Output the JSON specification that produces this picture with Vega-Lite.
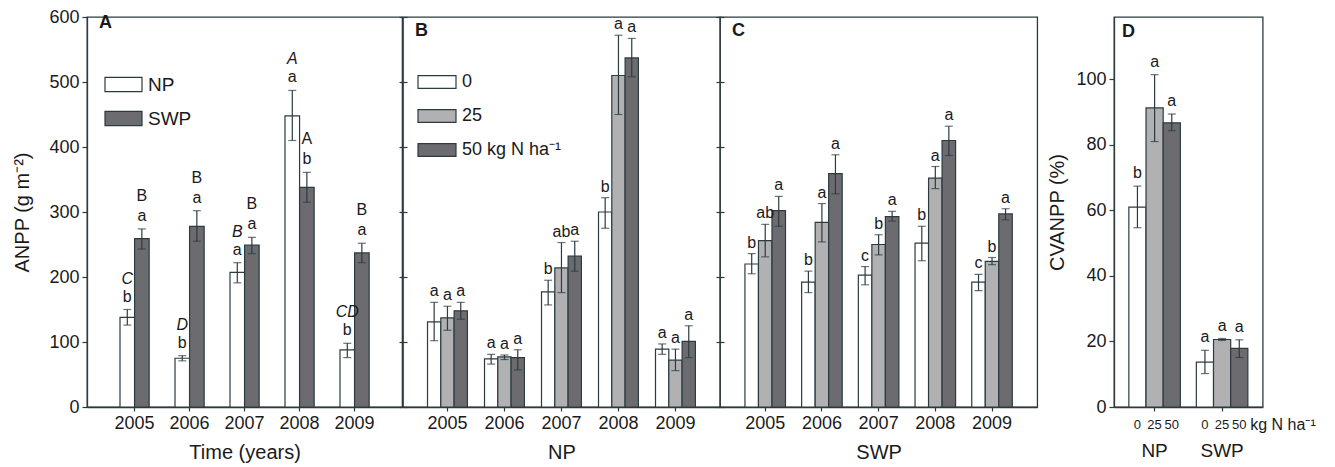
{
  "$schema": "https://vega.github.io/schema/vega-lite/v6.json",
  "background": "white",
  "padding": {"left": 12, "top": 7, "right": 0, "bottom": 0},
  "datasets": {
    "abc": [
      {"p":"A","year":"2005","trt":"NP","mean":138,"lo":126,"hi":150,"let":"b","cap":"C"},
      {"p":"A","year":"2005","trt":"SWP","mean":259,"lo":243,"hi":274,"let":"a","cap":"B"},
      {"p":"A","year":"2006","trt":"NP","mean":75,"lo":71,"hi":79,"let":"b","cap":"D"},
      {"p":"A","year":"2006","trt":"SWP","mean":278,"lo":255,"hi":302,"let":"a","cap":"B"},
      {"p":"A","year":"2007","trt":"NP","mean":207,"lo":191,"hi":222,"let":"a","cap":"B"},
      {"p":"A","year":"2007","trt":"SWP","mean":249,"lo":236,"hi":261,"let":"a","cap":"B"},
      {"p":"A","year":"2008","trt":"NP","mean":448,"lo":410,"hi":487,"let":"a","cap":"A"},
      {"p":"A","year":"2008","trt":"SWP","mean":338,"lo":315,"hi":361,"let":"b","cap":"A"},
      {"p":"A","year":"2009","trt":"NP","mean":88,"lo":76,"hi":98,"let":"b","cap":"CD"},
      {"p":"A","year":"2009","trt":"SWP","mean":237,"lo":222,"hi":252,"let":"a","cap":"B"},
      {"p":"B","year":"2005","trt":"0","mean":131,"lo":102,"hi":161,"let":"a"},
      {"p":"B","year":"2005","trt":"25","mean":137,"lo":118,"hi":155,"let":"a"},
      {"p":"B","year":"2005","trt":"50","mean":148,"lo":135,"hi":161,"let":"a"},
      {"p":"B","year":"2006","trt":"0","mean":74,"lo":66,"hi":81,"let":"a"},
      {"p":"B","year":"2006","trt":"25","mean":77,"lo":73,"hi":80,"let":"a"},
      {"p":"B","year":"2006","trt":"50","mean":76,"lo":57,"hi":88,"let":"a"},
      {"p":"B","year":"2007","trt":"0","mean":177,"lo":157,"hi":195,"let":"b"},
      {"p":"B","year":"2007","trt":"25","mean":214,"lo":176,"hi":253,"let":"ab"},
      {"p":"B","year":"2007","trt":"50","mean":232,"lo":209,"hi":255,"let":"a"},
      {"p":"B","year":"2008","trt":"0","mean":300,"lo":275,"hi":322,"let":"b"},
      {"p":"B","year":"2008","trt":"25","mean":510,"lo":450,"hi":572,"let":"a"},
      {"p":"B","year":"2008","trt":"50","mean":537,"lo":508,"hi":567,"let":"a"},
      {"p":"B","year":"2009","trt":"0","mean":89,"lo":81,"hi":97,"let":"a"},
      {"p":"B","year":"2009","trt":"25","mean":72,"lo":56,"hi":89,"let":"a"},
      {"p":"B","year":"2009","trt":"50","mean":101,"lo":76,"hi":125,"let":"a"},
      {"p":"C","year":"2005","trt":"0","mean":220,"lo":205,"hi":236,"let":"b"},
      {"p":"C","year":"2005","trt":"25","mean":256,"lo":231,"hi":281,"let":"ab"},
      {"p":"C","year":"2005","trt":"50","mean":302,"lo":278,"hi":324,"let":"a"},
      {"p":"C","year":"2006","trt":"0","mean":192,"lo":176,"hi":209,"let":"b"},
      {"p":"C","year":"2006","trt":"25","mean":284,"lo":254,"hi":313,"let":"a"},
      {"p":"C","year":"2006","trt":"50","mean":359,"lo":328,"hi":388,"let":"a"},
      {"p":"C","year":"2007","trt":"0","mean":203,"lo":188,"hi":216,"let":"c"},
      {"p":"C","year":"2007","trt":"25","mean":250,"lo":234,"hi":265,"let":"b"},
      {"p":"C","year":"2007","trt":"50","mean":293,"lo":286,"hi":301,"let":"a"},
      {"p":"C","year":"2008","trt":"0","mean":252,"lo":225,"hi":278,"let":"b"},
      {"p":"C","year":"2008","trt":"25","mean":352,"lo":336,"hi":370,"let":"a"},
      {"p":"C","year":"2008","trt":"50","mean":410,"lo":387,"hi":432,"let":"a"},
      {"p":"C","year":"2009","trt":"0","mean":192,"lo":179,"hi":204,"let":"c"},
      {"p":"C","year":"2009","trt":"25","mean":224,"lo":219,"hi":230,"let":"b"},
      {"p":"C","year":"2009","trt":"50","mean":297,"lo":288,"hi":305,"let":"a"}
    ],
    "cv": [
      {"grp":"NP","lvl":"0","mean":61,"lo":54.7,"hi":67.4,"let":"b"},
      {"grp":"NP","lvl":"25","mean":91.3,"lo":81,"hi":101.4,"let":"a"},
      {"grp":"NP","lvl":"50","mean":86.7,"lo":84.3,"hi":89.4,"let":"a"},
      {"grp":"SWP","lvl":"0","mean":13.7,"lo":10.2,"hi":17.3,"let":"a"},
      {"grp":"SWP","lvl":"25","mean":20.6,"lo":20.3,"hi":20.9,"let":"a"},
      {"grp":"SWP","lvl":"50","mean":17.9,"lo":15.1,"hi":20.5,"let":"a"}
    ]
  },
  "config": {
    "font": "Liberation Sans",
    "view": {"stroke": "#2b3b3e", "strokeWidth": 1.3},
    "axis": {"domainColor": "#2b3b3e", "tickColor": "#2b3b3e", "labelColor": "#1a1a1a", "titleColor": "#1a1a1a", "labelFont": "Liberation Sans", "titleFont": "Liberation Sans", "labelFontSize": 18, "titleFontSize": 20, "titleFontWeight": "normal", "grid": false, "domainWidth": 1.3, "tickWidth": 1.2, "labelOverlap": false},
    "legend": {"labelFont": "Liberation Sans", "labelColor": "#1a1a1a", "padding": 0},
    "text": {"font": "Liberation Sans", "fontSize": 16, "color": "#1a1a1a"},
    "title": {"font": "Liberation Sans", "fontSize": 18, "fontWeight": "bold", "color": "#1a1a1a", "anchor": "start", "frame": "group", "offset": -24, "dx": 12}
  },
  "resolve": {"scale": {"x": "independent", "xOffset": "independent", "y": "independent", "fill": "independent"}, "legend": {"fill": "independent"}},
  "spacing": 9,
  "hconcat": [
    {
      "hconcat": [
        {
          "width": {"step": 55, "for": "position"}, "height": 390,
          "title": {"text": "A"},
          "data": {"name": "abc"},
          "transform": [{"filter": "datum.p === 'A'"}],
          "encoding": {
            "x": {"field": "year", "type": "nominal", "scale": {"paddingInner": 0.47, "paddingOuter": 0.6}, "axis": {"title": "Time (years)", "labelAngle": 0, "tickSize": 4, "labelPadding": 3, "titlePadding": 10}},
            "xOffset": {"field": "trt", "type": "nominal", "scale": {"domain": ["NP", "SWP"], "paddingInner": 0, "paddingOuter": 0}}
          },
          "layer": [
            {"mark": {"type": "bar", "stroke": "#2b3b3e", "strokeWidth": 1.2},
             "encoding": {
               "y": {"field": "mean", "type": "quantitative", "scale": {"domain": [0, 600], "nice": false},
                     "axis": {"title": "ANPP (g m⁻²)", "labelOverlap": false, "labelBound": false, "values": [0,25,50,75,100,125,150,175,200,225,250,275,300,325,350,375,400,425,450,475,500,525,550,575,600], "labelExpr": "datum.value % 50 === 0 ? datum.label : ''", "tickSize": {"condition": {"test": "datum.value % 50 === 0", "value": 5}, "value": -3}, "labelPadding": 3, "titlePadding": 16}},
               "fill": {"field": "trt", "type": "nominal", "scale": {"domain": ["NP", "SWP"], "range": ["#ffffff", "#6c6c70"]},
                        "legend": {"orient": "none", "legendX": 17, "legendY": 48, "title": null, "symbolType": "M-1,-0.38H1V0.38H-1Z", "symbolSize": 1369, "symbolStrokeColor": "#2b3b3e", "symbolStrokeWidth": 1.2, "symbolOpacity": 1, "labelFontSize": 19, "labelOffset": 5, "rowPadding": 4}}
             }},
            {"mark": {"type": "rule", "color": "#2b3b3e", "strokeWidth": 1.2}, "encoding": {"y": {"field": "lo", "type": "quantitative"}, "y2": {"field": "hi"}}},
            {"mark": {"type": "tick", "color": "#2b3b3e", "size": 8, "thickness": 1.2}, "encoding": {"y": {"field": "lo", "type": "quantitative"}}},
            {"mark": {"type": "tick", "color": "#2b3b3e", "size": 8, "thickness": 1.2}, "encoding": {"y": {"field": "hi", "type": "quantitative"}}},
            {"mark": {"type": "text", "baseline": "alphabetic", "dy": -8}, "encoding": {"y": {"field": "hi", "type": "quantitative"}, "text": {"field": "let"}}},
            {"transform": [{"filter": "datum.trt === 'NP'"}], "mark": {"type": "text", "baseline": "alphabetic", "dy": -26, "fontStyle": "italic"}, "encoding": {"y": {"field": "hi", "type": "quantitative"}, "text": {"field": "cap"}}},
            {"transform": [{"filter": "datum.trt === 'SWP'"}], "mark": {"type": "text", "baseline": "alphabetic", "dy": -28}, "encoding": {"y": {"field": "hi", "type": "quantitative"}, "text": {"field": "cap"}}}
          ]
        },
        {
          "width": {"step": 57, "for": "position"}, "height": 390,
          "title": {"text": "B"},
          "data": {"name": "abc"},
          "transform": [{"filter": "datum.p === 'B'"}],
          "encoding": {
            "x": {"field": "year", "type": "nominal", "scale": {"paddingInner": 0.3, "paddingOuter": 0.43}, "axis": {"title": "NP", "labelAngle": 0, "tickSize": 4, "labelPadding": 3, "titlePadding": 10}},
            "xOffset": {"field": "trt", "type": "nominal", "scale": {"domain": ["0", "25", "50"], "paddingInner": 0, "paddingOuter": 0}}
          },
          "layer": [
            {"mark": {"type": "bar", "stroke": "#2b3b3e", "strokeWidth": 1.2},
             "encoding": {
               "y": {"field": "mean", "type": "quantitative", "scale": {"domain": [0, 600], "nice": false},
                     "axis": {"title": null, "labels": false, "domain": false, "tickSize": 8, "offset": -4, "values": [0,25,50,75,100,125,150,175,200,225,250,275,300,325,350,375,400,425,450,475,500,525,550,575,600]}},
               "fill": {"field": "trt", "type": "nominal", "scale": {"domain": ["0", "25", "50"], "range": ["#ffffff", "#b1b1b4", "#6c6c70"]},
                        "legend": {"orient": "none", "legendX": 14, "legendY": 45, "title": null, "symbolType": "M-1,-0.34H1V0.34H-1Z", "symbolSize": 1444, "symbolStrokeColor": "#2b3b3e", "symbolStrokeWidth": 1.2, "symbolOpacity": 1, "labelFontSize": 18, "labelOffset": 5, "rowPadding": 5, "labelExpr": "datum.label === '50' ? '50 kg N ha⁻¹' : datum.label"}}
             }},
            {"mark": {"type": "rule", "color": "#2b3b3e", "strokeWidth": 1.2}, "encoding": {"y": {"field": "lo", "type": "quantitative"}, "y2": {"field": "hi"}}},
            {"mark": {"type": "tick", "color": "#2b3b3e", "size": 8, "thickness": 1.2}, "encoding": {"y": {"field": "lo", "type": "quantitative"}}},
            {"mark": {"type": "tick", "color": "#2b3b3e", "size": 8, "thickness": 1.2}, "encoding": {"y": {"field": "hi", "type": "quantitative"}}},
            {"mark": {"type": "text", "baseline": "alphabetic", "dy": -6}, "encoding": {"y": {"field": "hi", "type": "quantitative"}, "text": {"field": "let"}}}
          ]
        },
        {
          "width": {"step": 56.7, "for": "position"}, "height": 390,
          "title": {"text": "C"},
          "data": {"name": "abc"},
          "transform": [{"filter": "datum.p === 'C'"}],
          "encoding": {
            "x": {"field": "year", "type": "nominal", "scale": {"paddingInner": 0.285, "paddingOuter": 0.44}, "axis": {"title": "SWP", "labelAngle": 0, "tickSize": 4, "labelPadding": 3, "titlePadding": 10}},
            "xOffset": {"field": "trt", "type": "nominal", "scale": {"domain": ["0", "25", "50"], "paddingInner": 0, "paddingOuter": 0}}
          },
          "layer": [
            {"mark": {"type": "bar", "stroke": "#2b3b3e", "strokeWidth": 1.2},
             "encoding": {
               "y": {"field": "mean", "type": "quantitative", "scale": {"domain": [0, 600], "nice": false},
                     "axis": {"title": null, "labels": false, "domain": false, "tickSize": 8, "offset": -4, "values": [0,25,50,75,100,125,150,175,200,225,250,275,300,325,350,375,400,425,450,475,500,525,550,575,600]}},
               "fill": {"field": "trt", "type": "nominal", "scale": {"domain": ["0", "25", "50"], "range": ["#ffffff", "#b1b1b4", "#6c6c70"]}, "legend": null}
             }},
            {"mark": {"type": "rule", "color": "#2b3b3e", "strokeWidth": 1.2}, "encoding": {"y": {"field": "lo", "type": "quantitative"}, "y2": {"field": "hi"}}},
            {"mark": {"type": "tick", "color": "#2b3b3e", "size": 8, "thickness": 1.2}, "encoding": {"y": {"field": "lo", "type": "quantitative"}}},
            {"mark": {"type": "tick", "color": "#2b3b3e", "size": 8, "thickness": 1.2}, "encoding": {"y": {"field": "hi", "type": "quantitative"}}},
            {"mark": {"type": "text", "baseline": "alphabetic", "dy": -6}, "encoding": {"y": {"field": "hi", "type": "quantitative"}, "text": {"field": "let"}}}
          ]
        }
      ],
      "spacing": 0,
      "bounds": "flush",
      "resolve": {"scale": {"x": "independent", "xOffset": "independent", "fill": "independent"}, "legend": {"fill": "independent"}}
    },
    {
      "width": {"step": 67.5, "for": "position"}, "height": 390,
      "title": {"text": "D", "dx": 8},
      "data": {"name": "cv"},
      "encoding": {
        "x": {"field": "grp", "type": "nominal", "scale": {"paddingInner": 0.237, "paddingOuter": 0.22}, "axis": {"title": null, "labelAngle": 0, "tickSize": 4, "labelPadding": 30, "labelFontSize": 19}},
        "xOffset": {"field": "lvl", "type": "nominal", "scale": {"domain": ["0", "25", "50"], "paddingInner": 0, "paddingOuter": 0}}
      },
      "layer": [
        {"mark": {"type": "bar", "stroke": "#2b3b3e", "strokeWidth": 1.2},
         "encoding": {
           "y": {"field": "mean", "type": "quantitative", "scale": {"domain": [0, 119], "nice": false},
                 "axis": {"title": "CVANPP (%)", "labelOverlap": false, "labelBound": false, "values": [0,5,10,15,20,25,30,35,40,45,50,55,60,65,70,75,80,85,90,95,100,105,110,115], "labelExpr": "datum.value % 10 === 0 ? datum.label : ''", "tickSize": {"condition": {"test": "datum.value % 10 === 0", "value": 5}, "value": -3}, "labelPadding": 3, "titlePadding": 8}},
           "fill": {"field": "lvl", "type": "nominal", "scale": {"domain": ["0", "25", "50"], "range": ["#ffffff", "#b1b1b4", "#6c6c70"]}, "legend": null}
         }},
        {"mark": {"type": "rule", "color": "#2b3b3e", "strokeWidth": 1.2}, "encoding": {"y": {"field": "lo", "type": "quantitative"}, "y2": {"field": "hi"}}},
        {"mark": {"type": "tick", "color": "#2b3b3e", "size": 8, "thickness": 1.2}, "encoding": {"y": {"field": "lo", "type": "quantitative"}}},
        {"mark": {"type": "tick", "color": "#2b3b3e", "size": 8, "thickness": 1.2}, "encoding": {"y": {"field": "hi", "type": "quantitative"}}},
        {"mark": {"type": "text", "baseline": "alphabetic", "dy": -8}, "encoding": {"y": {"field": "hi", "type": "quantitative"}, "text": {"field": "let"}}},
        {"mark": {"type": "text", "baseline": "middle", "dy": 18, "fontSize": 13}, "encoding": {"y": {"datum": 0}, "text": {"field": "lvl"}}},
        {"transform": [{"filter": "datum.grp === 'SWP' && datum.lvl === '50'"}], "mark": {"type": "text", "baseline": "middle", "align": "left", "dx": 11, "dy": 18, "fontSize": 16, "text": "kg N ha⁻¹"}, "encoding": {"y": {"datum": 0}}}
      ]
    }
  ]
}
